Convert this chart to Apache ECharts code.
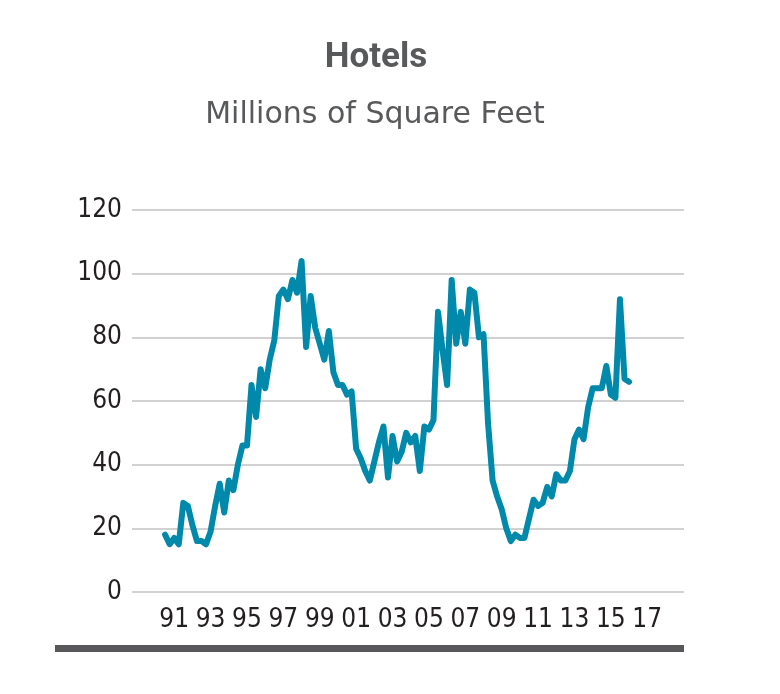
<!DOCTYPE html>
<html>
<head>
<meta charset="utf-8">
<script src="https://cdn.jsdelivr.net/npm/echarts@6/dist/echarts.min.js"></script>
<style>
  html, body { margin: 0; padding: 0; background: #ffffff; }
  #chart { width: 780px; height: 694px; }
</style>
</head>
<body>
<div id="chart"></div>
<script>
// Quarterly series, first quarter = 1990 Q3 (decimal year of first point)
const startYear = 1990.5;
const quarterStep = 0.25;
const hotelValues = [
  18, 15, 17, 15, 28, 27, 21, 16, 16, 15,
  19, 27, 34, 25, 35, 32, 40, 46, 46, 65,
  55, 70, 64, 73, 79, 93, 95, 92, 98, 94,
  104, 77, 93, 83, 78, 73, 82, 69, 65, 65,
  62, 63, 45, 42, 38, 35, 41, 47, 52, 36,
  49, 41, 44, 50, 47, 49, 38, 52, 51, 54,
  88, 76, 65, 98, 78, 88, 78, 95, 94, 80,
  81, 53, 35, 30, 26, 20, 16, 18, 17, 17,
  23, 29, 27, 28, 33, 30, 37, 35, 35, 38,
  48, 51, 48, 58, 64, 64, 64, 71, 62, 61,
  92, 67, 66
];
const xTickYears = [1991, 1993, 1995, 1997, 1999, 2001, 2003, 2005, 2007, 2009, 2011, 2013, 2015, 2017];
const yTicks = [0, 20, 40, 60, 80, 100, 120];

const seriesData = hotelValues.map((v, i) => [startYear + i * quarterStep, v]);

const tickFont = "'Liberation Sans Narrow', 'DejaVu Sans Condensed', 'Roboto Condensed', Roboto, sans-serif";

const chart = echarts.init(document.getElementById('chart'), null, { renderer: 'canvas' });
chart.setOption({
  backgroundColor: '#ffffff',
  animation: false,
  title: [
    {
      text: 'Hotels',
      left: 371, top: 36, textAlign: 'center',
      textStyle: { fontFamily: 'Roboto', fontWeight: 'bold', fontSize: 35, color: '#58595b' }
    },
    {
      text: 'Millions of Square Feet',
      left: 370, top: 95, textAlign: 'center',
      textStyle: { fontFamily: "'DejaVu Sans'", fontWeight: 'normal', fontSize: 30, color: '#58595b' }
    }
  ],
  grid: { left: 132, right: 96, top: 210, bottom: 102, containLabel: false },
  xAxis: {
    type: 'value',
    min: 1988.68,
    max: 2019.02,
    axisLine: { show: false },
    axisTick: { show: false },
    splitLine: { show: false },
    axisLabel: {
      customValues: xTickYears,
      margin: 15,
      fontFamily: tickFont,
      fontSize: 26,
      color: '#231f20',
      formatter: v => String(Math.round(v) % 100).padStart(2, '0')
    }
  },
  yAxis: {
    type: 'value',
    min: yTicks[0],
    max: yTicks[yTicks.length - 1],
    interval: 20,
    axisLine: { show: false },
    axisTick: { show: false },
    axisLabel: {
      margin: 10,
      fontFamily: tickFont,
      fontSize: 26,
      color: '#231f20'
    },
    splitLine: { lineStyle: { color: '#c2c2c2', width: 1.5 } }
  },
  series: [{
    type: 'line',
    data: seriesData,
    showSymbol: false,
    lineStyle: { color: '#0089ab', width: 6, cap: 'round', join: 'round' },
    itemStyle: { color: '#0089ab' }
  }],
  graphic: [{
    type: 'rect',
    shape: { x: 55, y: 645, width: 629, height: 7 },
    style: { fill: '#58585b' }
  }]
});
</script>
</body>
</html>
